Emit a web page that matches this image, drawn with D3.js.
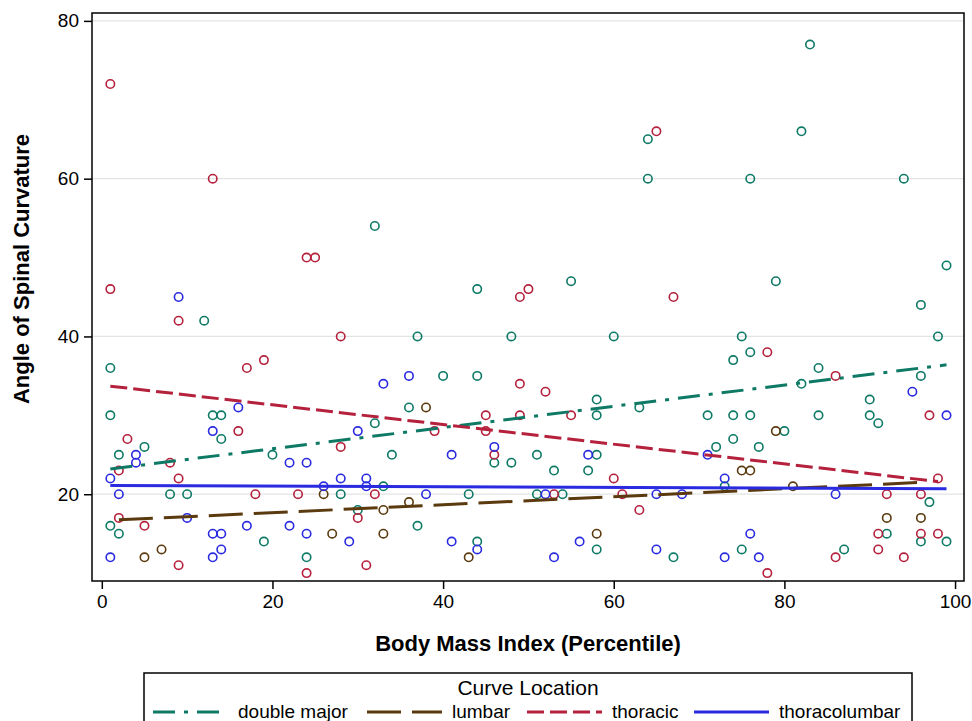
<!DOCTYPE html>
<html>
<head>
<meta charset="utf-8">
<script src="https://cdn.jsdelivr.net/npm/d3@7"></script>
<style>
  body { margin: 0; background: #fff; }
  text { font-family: "Liberation Sans", Arial, sans-serif; fill: #000; }
</style>
</head>
<body>
<div id="chart"></div>
<script>
// groups in draw order (later groups on top)
const groupNames = ["double major", "lumbar", "thoracic", "thoracolumbar"];
const groupColors = ["#0e7a66", "#5a3a0e", "#b5213c", "#2a2ae0"];
const groupDashes = ["22,9,4,9", "34,11", "17,6", null];

// [BMI percentile, angle]
const doubleMajor = [
  [32,54],[1,36],[13,30],[14,30],[1,30],[32,29],[14,27],[5,26],[2,25],[20,25],[34,25],[33,21],
  [8,20],[10,20],[28,20],[30,18],[1,16],[2,15],[19,14],[24,12],[12,42],[64,65],[64,60],[44,46],
  [55,47],[37,40],[48,40],[60,40],[40,35],[44,35],[36,31],[58,32],[58,30],[63,31],[46,24],[48,24],
  [51,25],[58,25],[53,23],[57,23],[43,20],[51,20],[54,20],[37,16],[44,14],[58,13],[67,12],[83,77],
  [82,66],[76,60],[94,60],[99,49],[79,47],[96,44],[75,40],[98,40],[76,38],[74,37],[84,36],[82,34],
  [96,35],[90,32],[71,30],[74,30],[76,30],[84,30],[90,30],[91,29],[80,28],[74,27],[72,26],[77,26],
  [73,21],[97,19],[92,15],[75,13],[87,13],[96,14],[99,14]
];
const lumbar = [
  [26,20],[33,18],[27,15],[33,15],[7,13],[5,12],[38,31],[36,19],[58,15],[43,12],[79,28],[75,23],
  [76,23],[81,21],[92,17],[96,17]
];
const thoracic = [
  [1,72],[13,60],[24,50],[25,50],[1,46],[9,42],[28,40],[17,36],[19,37],[16,28],[3,27],[8,24],
  [28,26],[2,23],[9,22],[18,20],[23,20],[32,20],[2,17],[30,17],[5,16],[9,11],[31,11],[24,10],
  [65,66],[49,45],[50,46],[67,45],[49,34],[52,33],[45,30],[49,30],[55,30],[39,28],[45,28],[46,25],
  [60,22],[53,20],[61,20],[63,18],[78,38],[86,35],[97,30],[98,22],[92,20],[96,20],[91,15],[96,15],
  [98,15],[91,13],[86,12],[94,12],[78,10]
];
const thoracolumbar = [
  [9,45],[33,34],[16,31],[13,28],[30,28],[4,25],[4,24],[22,24],[24,24],[1,22],[28,22],[31,22],
  [26,21],[31,21],[2,20],[10,17],[17,16],[22,16],[13,15],[14,15],[24,15],[29,14],[14,13],[1,12],
  [13,12],[36,35],[46,26],[41,25],[57,25],[38,20],[52,20],[65,20],[68,20],[41,14],[56,14],[44,13],
  [65,13],[53,12],[95,33],[99,30],[71,25],[73,22],[86,20],[76,15],[73,12],[77,12]
];

// fitted regression lines: [x0, y0, x1, y1]
const fitDoubleMajor = [1, 23.2, 99, 36.4];
const fitLumbar = [2, 16.75, 96, 21.5];
const fitThoracic = [1, 33.7, 98, 21.6];
const fitThoracolumbar = [1, 21.1, 99, 20.7];

const xTicks = [0, 20, 40, 60, 80, 100];
const yTicks = [20, 40, 60, 80];

const groupPoints = [doubleMajor, lumbar, thoracic, thoracolumbar];
const groupFits = [fitDoubleMajor, fitLumbar, fitThoracic, fitThoracolumbar];

const width = 972, height = 721;
const plot = { left: 92, right: 964, top: 13, bottom: 581 };

const svg = d3.select("#chart").append("svg")
  .attr("width", width)
  .attr("height", height);

svg.append("rect").attr("width", width).attr("height", height).attr("fill", "#fff");

const x = d3.scaleLinear().domain([-1.15, 101.05]).range([plot.left, plot.right]);
const y = d3.scaleLinear().domain([9, 81]).range([plot.bottom, plot.top]);

// grid
svg.append("g")
  .selectAll("line")
  .data(yTicks)
  .join("line")
  .attr("x1", plot.left).attr("x2", plot.right)
  .attr("y1", d => y(d)).attr("y2", d => y(d))
  .attr("stroke", "#e3e3e3")
  .attr("stroke-width", 1.2);

// axes
const xAxis = svg.append("g")
  .attr("transform", `translate(0,${plot.bottom})`)
  .call(d3.axisBottom(x).tickValues(xTicks).tickSize(8).tickPadding(6));
const yAxis = svg.append("g")
  .attr("transform", `translate(${plot.left},0)`)
  .call(d3.axisLeft(y).tickValues(yTicks).tickSize(8).tickPadding(5));

[xAxis, yAxis].forEach(g => {
  g.select(".domain").remove();
  g.selectAll(".tick line").attr("stroke", "#000").attr("stroke-width", 1.5);
  g.selectAll(".tick text")
    .attr("font-size", 19)
    .attr("font-family", "Liberation Sans, Arial, sans-serif")
    .attr("fill", "#000");
});

// frame
svg.append("rect")
  .attr("x", plot.left).attr("y", plot.top)
  .attr("width", plot.right - plot.left)
  .attr("height", plot.bottom - plot.top)
  .attr("fill", "none")
  .attr("stroke", "#000")
  .attr("stroke-width", 1.5);

// scatter points
groupPoints.forEach((pts, i) => {
  svg.append("g")
    .selectAll("circle")
    .data(pts)
    .join("circle")
    .attr("cx", d => x(d[0]))
    .attr("cy", d => y(d[1]))
    .attr("r", 4.2)
    .attr("fill", "none")
    .attr("stroke", groupColors[i])
    .attr("stroke-width", 1.6);
});

// regression lines
groupFits.forEach((f, i) => {
  svg.append("line")
    .attr("x1", x(f[0])).attr("y1", y(f[1]))
    .attr("x2", x(f[2])).attr("y2", y(f[3]))
    .attr("stroke", groupColors[i])
    .attr("stroke-width", 3)
    .attr("stroke-dasharray", groupDashes[i]);
});

// axis labels
svg.append("text")
  .attr("x", (plot.left + plot.right) / 2)
  .attr("y", 651)
  .attr("text-anchor", "middle")
  .attr("font-size", 22)
  .attr("font-weight", "bold")
  .text("Body Mass Index (Percentile)");

svg.append("text")
  .attr("transform", "translate(29,269) rotate(-90)")
  .attr("text-anchor", "middle")
  .attr("font-size", 22)
  .attr("font-weight", "bold")
  .text("Angle of Spinal Curvature");

// legend
const legend = svg.append("g");
legend.append("rect")
  .attr("x", 144).attr("y", 673)
  .attr("width", 768).attr("height", 70)
  .attr("fill", "none")
  .attr("stroke", "#000")
  .attr("stroke-width", 1.5);

legend.append("text")
  .attr("x", 528).attr("y", 695)
  .attr("text-anchor", "middle")
  .attr("font-size", 21)
  .text("Curve Location");

const legendX = [153, 367, 527, 694];
groupNames.forEach((name, i) => {
  legend.append("line")
    .attr("x1", legendX[i]).attr("x2", legendX[i] + 75)
    .attr("y1", 712).attr("y2", 712)
    .attr("stroke", groupColors[i])
    .attr("stroke-width", 3)
    .attr("stroke-dasharray", groupDashes[i]);
  legend.append("text")
    .attr("x", legendX[i] + 85).attr("y", 718)
    .attr("font-size", 19)
    .text(name);
});
</script>
</body>
</html>
